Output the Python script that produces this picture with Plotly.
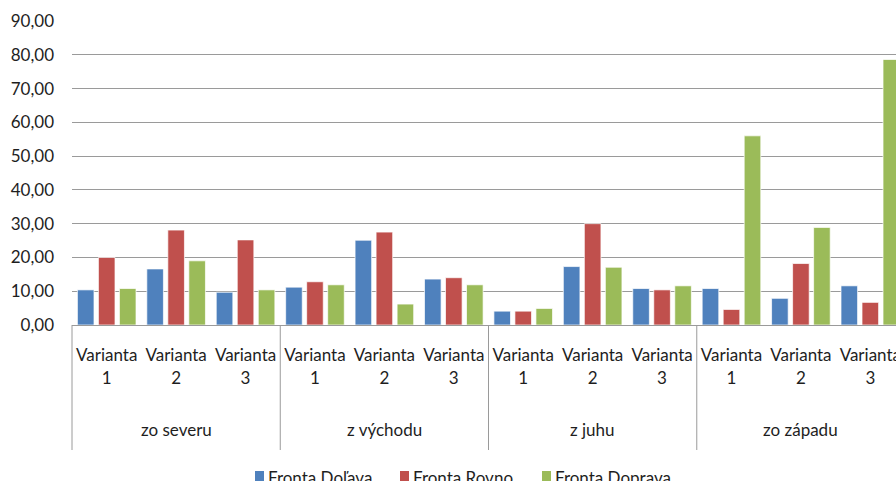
import plotly.graph_objects as go

# Directions (outer category level) and variants (inner level)
directions = ["zo severu", "z východu", "z juhu", "zo západu"]
variants = ["Varianta 1", "Varianta 2", "Varianta 3"]

# Queue length per approach direction and variant
fronta_dolava = [10.4, 16.6, 9.7, 11.2, 25.1, 13.6, 4.1, 17.3, 10.8, 10.8, 7.9, 11.6]
fronta_rovno = [20.0, 28.1, 25.2, 12.8, 27.5, 14.0, 4.1, 30.0, 10.4, 4.6, 18.2, 6.7]
fronta_doprava = [10.8, 19.0, 10.4, 11.9, 6.2, 11.9, 4.9, 17.1, 11.6, 56.0, 28.9, 78.6]

series_names = ["Fronta Doľava", "Fronta Rovno", "Fronta Doprava"]
series_values = [fronta_dolava, fronta_rovno, fronta_doprava]
series_colors = ["#4F81BD", "#C0504D", "#9BBB59"]

n_var = len(variants)
n_cat = len(directions) * n_var
xpos = list(range(n_cat))
ticktext = [v.replace(" ", "<br>") for _ in directions for v in variants]

FONT = "Lato"
FSIZE = 17
TXT = "#1e1e1e"
GRID = "#9a9a9a"

W, H = 896, 481
ML, MR, MT, MB = 72, 0, 21, 156
PW, PH = W - ML - MR, H - MT - MB

# the last category is partly outside the visible plot width
x_range = [-0.5, 11.37]


def to_paper(x):
    return (x - x_range[0]) / (x_range[1] - x_range[0])


def px_x(p):
    return (p - ML) / PW


def px_y(p):
    return (H - MB - p) / PH


fig = go.Figure()
for name, vals, col in zip(series_names, series_values, series_colors):
    fig.add_trace(go.Bar(
        name=name, x=xpos, y=vals, showlegend=False,
        marker=dict(color=col, line=dict(color="rgba(255,255,255,0.7)", width=1)),
    ))

shapes = []
annotations = []

# group labels and dividers under the axis
for g, d in enumerate(directions):
    left = g * n_var - 0.5
    shapes.append(dict(type="line", xref="paper", yref="paper",
                       x0=to_paper(left), x1=to_paper(left), y0=0, y1=px_y(450),
                       line=dict(color=GRID, width=1)))
    annotations.append(dict(text=d, xref="paper", yref="paper",
                            x=to_paper(g * n_var + (n_var - 1) / 2), y=px_y(429),
                            xanchor="center", yanchor="middle", showarrow=False,
                            font=dict(family=FONT, size=FSIZE, color=TXT)))

# legend row along the bottom edge
legend_left = [255, 400, 542]
for name, col, lx in zip(series_names, series_colors, legend_left):
    shapes.append(dict(type="rect", xref="paper", yref="paper",
                       x0=px_x(lx), x1=px_x(lx + 9), y0=px_y(471), y1=px_y(481),
                       line=dict(width=0), fillcolor=col))
    annotations.append(dict(text=name, xref="paper", yref="paper",
                            x=px_x(lx + 11), y=px_y(477),
                            xanchor="left", yanchor="middle", showarrow=False,
                            font=dict(family=FONT, size=FSIZE, color=TXT)))

fig.update_layout(
    width=W, height=H,
    margin=dict(l=ML, r=MR, t=MT, b=MB, autoexpand=False),
    paper_bgcolor="white", plot_bgcolor="white",
    barmode="group", bargap=0.092, bargroupgap=0.21,
    separators=", ",
    font=dict(family=FONT, size=FSIZE, color=TXT),
    shapes=shapes, annotations=annotations,
    showlegend=False,
    xaxis=dict(range=x_range, tickmode="array", tickvals=xpos, ticktext=ticktext,
               showgrid=False, zeroline=False, showline=True, linecolor=GRID,
               linewidth=1, ticks="", ticklabelstandoff=15,
               ticklabeloverflow="allow",
               tickfont=dict(family=FONT, size=FSIZE, color=TXT)),
    yaxis=dict(range=[0, 90], dtick=10, tickformat=".2f", showgrid=True,
               gridcolor=GRID, gridwidth=1, zeroline=False, showline=False,
               ticks="", ticklabelstandoff=17,
               tickfont=dict(family=FONT, size=FSIZE, color=TXT)),
)

fig.write_html("out.html")
